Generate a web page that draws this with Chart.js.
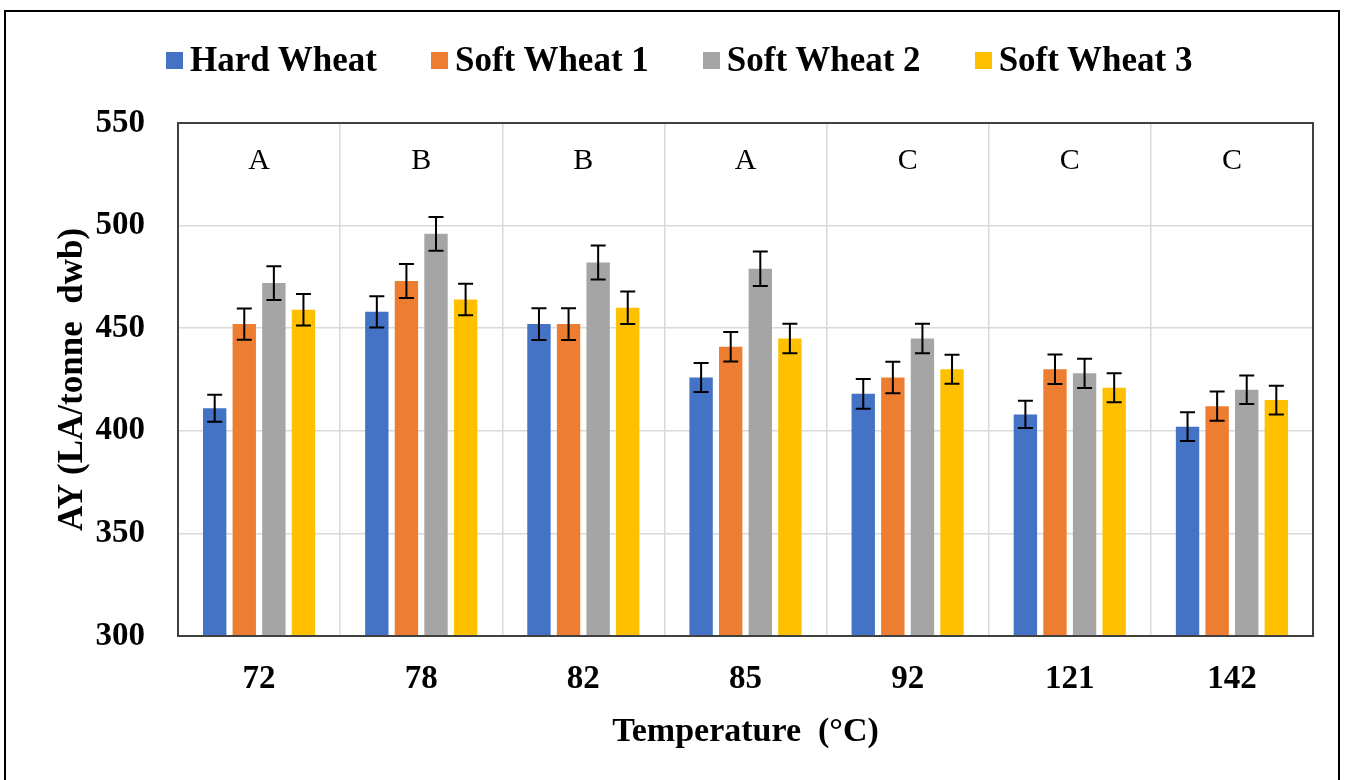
<!DOCTYPE html>
<html>
<head>
<meta charset="utf-8">
<title>AY vs Temperature</title>
<script src="https://cdn.jsdelivr.net/npm/chart.js@4.4.1/dist/chart.umd.min.js"></script>
<style>
    html, body { margin: 0; padding: 0; background: #fff; }
    #wrap { position: relative; width: 1345px; height: 780px; overflow: hidden; }
    #frame {
        position: absolute; left: 4px; top: 10px; width: 1336px; height: 800px;
        border: 2px solid #000; box-sizing: border-box; pointer-events: none;
    }
    #legend {
        position: absolute; left: 166px; top: 40px; display: flex; align-items: center;
        font-family: 'Liberation Serif', 'Times New Roman', serif; font-weight: bold;
        font-size: 35px; color: #000; white-space: pre;
    }
    #legend .item { display: flex; align-items: center; margin-right: 54px; }
    #legend .box { width: 17px; height: 17px; margin-right: 7px; }
</style>
</head>
<body>
<div id="wrap">
    <canvas id="ayChart" width="1345" height="780"></canvas>
    <div id="legend"></div>
    <div id="frame"></div>
</div>
<script>
// Temperature categories (x axis)
const temperatures = ['72', '78', '82', '85', '92', '121', '142'];

// AY values (LA/tonne dwb) per series
const hardWheat  = [411, 458, 452, 426, 418, 408, 402];
const softWheat1 = [452, 473, 452, 441, 426, 430, 412];
const softWheat2 = [472, 496, 482, 479, 445, 428, 420];
const softWheat3 = [459, 464, 460, 445, 430, 421, 415];

// error bar half-lengths per series
const hardWheatErr  = [6.6, 7.6, 7.7, 7.1, 7.2, 6.6, 7.0];
const softWheat1Err = [7.6, 8.3, 7.7, 7.2, 7.7, 7.2, 7.1];
const softWheat2Err = [8.2, 8.2, 8.3, 8.4, 7.2, 7.1, 7.0];
const softWheat3Err = [7.7, 7.7, 7.9, 7.2, 7.1, 7.1, 7.0];

// significance letters per temperature
const groupLetters = ['A', 'B', 'B', 'A', 'C', 'C', 'C'];

const seriesNames = ['Hard Wheat', 'Soft Wheat 1', 'Soft Wheat 2', 'Soft Wheat 3'];
const seriesColors = ['#4472C4', '#ED7D31', '#A5A5A5', '#FFC000'];

const FONT = "'Liberation Serif', 'Times New Roman', serif";

// Error bars drawn from each bar's position
const errorBarPlugin = {
    id: 'errorBars',
    afterDatasetsDraw(chart, args, opts) {
        const ctx = chart.ctx;
        const yScale = chart.scales.y;
        ctx.save();
        ctx.strokeStyle = opts.color;
        ctx.lineWidth = opts.lineWidth;
        chart.data.datasets.forEach((ds, di) => {
            const meta = chart.getDatasetMeta(di);
            meta.data.forEach((bar, i) => {
                const v = ds.data[i];
                const e = ds.errors[i];
                const yTop = yScale.getPixelForValue(v + e);
                const yBot = yScale.getPixelForValue(v - e);
                const half = opts.capWidth / 2;
                ctx.beginPath();
                ctx.moveTo(bar.x, yTop);
                ctx.lineTo(bar.x, yBot);
                ctx.moveTo(bar.x - half, yTop);
                ctx.lineTo(bar.x + half, yTop);
                ctx.moveTo(bar.x - half, yBot);
                ctx.lineTo(bar.x + half, yBot);
                ctx.stroke();
            });
        });
        ctx.restore();
    }
};

// Box around the plot area
const plotBoxPlugin = {
    id: 'plotBox',
    afterDatasetsDraw(chart, args, opts) {
        const a = chart.chartArea;
        const ctx = chart.ctx;
        ctx.save();
        ctx.strokeStyle = opts.color;
        ctx.lineWidth = opts.lineWidth;
        ctx.strokeRect(a.left, a.top, a.right - a.left, a.bottom - a.top);
        ctx.restore();
    }
};

// Letters above each temperature group
const groupLetterPlugin = {
    id: 'groupLetters',
    afterDraw(chart, args, opts) {
        const ctx = chart.ctx;
        const xScale = chart.scales.x;
        const y = chart.scales.y.getPixelForValue(opts.level);
        ctx.save();
        ctx.font = opts.font;
        ctx.fillStyle = '#000';
        ctx.textAlign = 'center';
        ctx.textBaseline = 'middle';
        opts.letters.forEach((letter, i) => {
            ctx.fillText(letter, xScale.getPixelForValue(i), y);
        });
        ctx.restore();
    }
};

const seriesValues = [hardWheat, softWheat1, softWheat2, softWheat3];
const seriesErrors = [hardWheatErr, softWheat1Err, softWheat2Err, softWheat3Err];

const datasets = seriesNames.map((name, i) => ({
    label: name,
    data: seriesValues[i],
    errors: seriesErrors[i],
    backgroundColor: seriesColors[i],
    borderWidth: 0,
    categoryPercentage: 0.73,
    barPercentage: 0.79
}));

new Chart(document.getElementById('ayChart'), {
    type: 'bar',
    data: { labels: temperatures, datasets: datasets },
    plugins: [plotBoxPlugin, errorBarPlugin, groupLetterPlugin],
    options: {
        responsive: false,
        animation: false,
        layout: { padding: { left: 52, right: 32, top: 123, bottom: 27 } },
        plugins: {
            legend: { display: false },
            tooltip: { enabled: false },
            plotBox: { color: '#404040', lineWidth: 2 },
            errorBars: { color: '#000', lineWidth: 2, capWidth: 15 },
            groupLetters: { letters: groupLetters, level: 531.5, font: '30px ' + FONT }
        },
        scales: {
            x: {
                afterFit(scale) { scale.height = 117; },
                grid: { color: '#d9d9d9', lineWidth: 1.5, drawTicks: false, offset: true },
                border: { display: true, color: '#404040', width: 2 },
                ticks: { color: '#000', padding: 24, font: { family: FONT, size: 33, weight: 'bold' } },
                title: {
                    display: true,
                    text: 'Temperature  (°C)',
                    color: '#000',
                    padding: { top: 0, bottom: 0 },
                    font: { family: FONT, size: 34, weight: 'bold' }
                }
            },
            y: {
                min: 300,
                max: 550,
                afterFit(scale) { scale.width = 126; },
                grid: { color: '#d9d9d9', lineWidth: 1.5, drawTicks: false },
                border: { display: true, color: '#404040', width: 2 },
                ticks: { stepSize: 50, color: '#000', padding: 33, font: { family: FONT, size: 33, weight: 'bold' } },
                title: {
                    display: true,
                    text: 'AY (LA/tonne  dwb)',
                    color: '#000',
                    padding: { top: 0, bottom: 0 },
                    font: { family: FONT, size: 35, weight: 'bold' }
                }
            }
        }
    }
});

// HTML legend built from the datasets
const legendEl = document.getElementById('legend');
datasets.forEach(ds => {
    const item = document.createElement('div');
    item.className = 'item';
    const box = document.createElement('span');
    box.className = 'box';
    box.style.background = ds.backgroundColor;
    const text = document.createElement('span');
    text.textContent = ds.label;
    item.appendChild(box);
    item.appendChild(text);
    legendEl.appendChild(item);
});
</script>
</body>
</html>
